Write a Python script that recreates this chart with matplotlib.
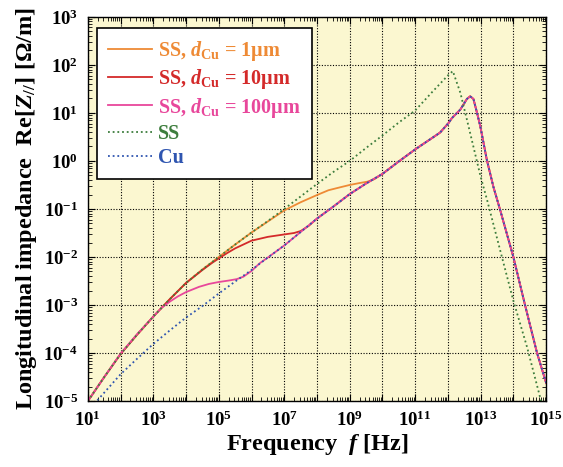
import numpy as np
import matplotlib
matplotlib.use("Agg")
import matplotlib.pyplot as plt
from matplotlib.ticker import FixedLocator, FuncFormatter, LogLocator, NullFormatter

plt.rcParams["font.family"] = "Liberation Serif"
plt.rcParams["font.weight"] = "bold"
plt.rcParams["axes.labelweight"] = "bold"
plt.rcParams["mathtext.fontset"] = "custom"
plt.rcParams["mathtext.rm"] = "Liberation Serif:bold"
plt.rcParams["mathtext.bf"] = "Liberation Serif:bold"
plt.rcParams["mathtext.it"] = "Liberation Serif:italic:bold"

# Values, as log10(f [Hz]) and log10(Re Z [Ohm/m]).
ss_logf = [1.0, 1.5, 2.0, 2.5, 3.0, 3.5, 4.0, 4.5, 5.0, 5.5, 6.0, 6.5, 7.0, 7.5,
           8.0, 8.5, 9.0, 9.5, 10.0, 10.5, 11.0, 11.5, 12.0, 12.15, 12.38, 12.63,
           13.0, 13.2, 13.65, 14.0, 14.42, 14.82, 15.0]
ss_logz = [-5.0, -4.5, -4.02, -3.62, -3.24, -2.88, -2.54, -2.26, -2.0, -1.74, -1.49,
           -1.25, -1.0, -0.74, -0.48, -0.23, 0.0, 0.27, 0.53, 0.8, 1.05, 1.42, 1.78,
           1.87, 1.42, 0.72, -0.33, -0.82, -2.0, -2.91, -3.88, -4.93, -5.4]

cu_logf = [1.0, 1.27, 2.0, 2.5, 3.0, 3.5, 4.0, 4.5, 5.0, 5.5, 6.0, 6.5, 7.0, 7.5,
           8.0, 8.5, 9.0, 9.5, 10.0, 10.5, 11.0, 11.5, 11.76, 12.02, 12.12, 12.38,
           12.58, 12.68, 12.78, 12.89, 12.99, 13.19, 13.39, 13.6, 14.0, 14.36,
           14.72, 15.0]
cu_logz = [-5.2, -5.0, -4.44, -4.12, -3.81, -3.53, -3.26, -3.02, -2.76, -2.51, -2.27,
           -2.01, -1.76, -1.48, -1.2, -0.95, -0.69, -0.47, -0.27, -0.01, 0.24, 0.47,
           0.59, 0.79, 0.89, 1.07, 1.29, 1.345, 1.29, 1.0, 0.72, 0.02, -0.54, -1.03,
           -2.0, -3.01, -3.99, -4.62]

# SS + 1 um copper
d1_logf = [1.0, 1.5, 2.0, 2.5, 3.0, 3.5, 4.0, 4.5, 5.0, 5.5, 6.0, 6.5, 7.0, 7.5,
           8.0, 8.35, 8.7, 9.0, 9.3, 9.55, 9.75, 10.0]
d1_logz = [-5.0, -4.5, -4.02, -3.62, -3.24, -2.88, -2.54, -2.26, -2.0, -1.74, -1.49,
           -1.26, -1.03, -0.86, -0.71, -0.61, -0.55, -0.5, -0.46, -0.43, -0.38, -0.27]

# SS + 10 um copper
d10_logf = [1.0, 1.5, 2.0, 2.5, 3.0, 3.5, 4.0, 4.5, 4.8, 5.0, 5.25, 5.5, 6.0, 6.5,
            7.0, 7.3, 7.5, 7.75, 8.0]
d10_logz = [-5.0, -4.5, -4.02, -3.62, -3.24, -2.88, -2.54, -2.27, -2.12, -2.03, -1.92,
            -1.82, -1.66, -1.58, -1.53, -1.5, -1.46, -1.35, -1.2]

# SS + 100 um copper
d100_logf = [1.0, 1.5, 2.0, 2.5, 3.0, 3.25, 3.5, 3.75, 4.0, 4.4, 4.7, 5.0, 5.3, 5.55,
             5.75, 6.0, 6.25, 6.5]
d100_logz = [-5.0, -4.5, -4.01, -3.61, -3.24, -3.06, -2.93, -2.82, -2.73, -2.62, -2.56,
             -2.52, -2.49, -2.46, -2.41, -2.29, -2.13, -2.01]


def join_cu(logf, logz):
    # past the merge point the layered curves follow the Cu curve
    last = logf[-1]
    fx = list(logf) + [x for x in cu_logf if x > last]
    zy = list(logz) + [z for x, z in zip(cu_logf, cu_logz) if x > last]
    return 10 ** np.array(fx), 10 ** np.array(zy)


c_orange = "#ee8a35"
c_red = "#d42a2a"
c_pink = "#e8479b"
c_green = "#3d7d3d"
c_blue = "#2f55b0"

fig = plt.figure(figsize=(5.63, 4.67), dpi=100)
ax = fig.add_axes([0.156, 0.141, 0.814, 0.823])
ax.set_facecolor("#fbf7d0")

x, y = join_cu(d1_logf, d1_logz)
ax.loglog(x, y, color=c_orange, lw=1.3, label=r"SS, $\mathit{d}_{\mathrm{Cu}}$ = 1µm")
x, y = join_cu(d10_logf, d10_logz)
ax.loglog(x, y, color=c_red, lw=1.3, label=r"SS, $\mathit{d}_{\mathrm{Cu}}$ = 10µm")
x, y = join_cu(d100_logf, d100_logz)
ax.loglog(x, y, color=c_pink, lw=1.3, label=r"SS, $\mathit{d}_{\mathrm{Cu}}$ = 100µm")
ax.loglog(10 ** np.array(ss_logf), 10 ** np.array(ss_logz), color=c_green, lw=1.3,
          linestyle=(0, (1, 1.6)), label="SS")
ax.loglog(10 ** np.array(cu_logf), 10 ** np.array(cu_logz), color=c_blue, lw=1.3,
          linestyle=(0, (1, 1.6)), label="Cu")

ax.set_xlim(1e1, 1e15)
ax.set_ylim(1e-5, 1e3)

ax.xaxis.set_major_locator(FixedLocator([10.0 ** k for k in range(1, 16)]))
ax.xaxis.set_major_formatter(FuncFormatter(
    lambda v, p: r"$10^{%d}$" % round(np.log10(v)) if round(np.log10(v)) % 2 == 1 else ""))
ax.yaxis.set_major_locator(FixedLocator([10.0 ** k for k in range(-5, 4)]))
ax.yaxis.set_major_formatter(FuncFormatter(lambda v, p: r"$10^{%d}$" % round(np.log10(v))))
ax.xaxis.set_minor_locator(LogLocator(base=10, subs=np.arange(2, 10), numticks=30))
ax.yaxis.set_minor_locator(LogLocator(base=10, subs=np.arange(2, 10), numticks=30))
ax.xaxis.set_minor_formatter(NullFormatter())
ax.yaxis.set_minor_formatter(NullFormatter())

ax.tick_params(which="both", direction="in", top=True, right=True, labelsize=13.5)
ax.tick_params(which="major", length=5, width=0.8)
ax.tick_params(which="minor", length=3, width=0.6)
ax.tick_params(axis="x", which="major", pad=7)
ax.tick_params(axis="y", which="major", pad=7)
ax.grid(True, which="major", color="black", linestyle=(0, (1, 1.5)), lw=0.8)
for s in ax.spines.values():
    s.set_linewidth(1.0)

ax.set_xlabel(r"Frequency  $\mathit{f}$ [Hz]", fontsize=17.5, labelpad=1)
ax.set_ylabel(r"Longitudinal impedance  Re[$\mathit{Z}_{//}$] [Ω/m]", fontsize=17.5, labelpad=3)

leg = ax.legend(loc="upper left", bbox_to_anchor=(0.02, 0.972), borderaxespad=0,
                fontsize=14.5, fancybox=False, framealpha=1, edgecolor="black",
                handlelength=2.2, handletextpad=0.3, labelspacing=0.22, borderpad=0.55)
leg.get_frame().set_linewidth(1.2)
for txt, col in zip(leg.get_texts(), [c_orange, c_red, c_pink, c_green, c_blue]):
    txt.set_color(col)

fig.savefig("out.png", dpi=100)
